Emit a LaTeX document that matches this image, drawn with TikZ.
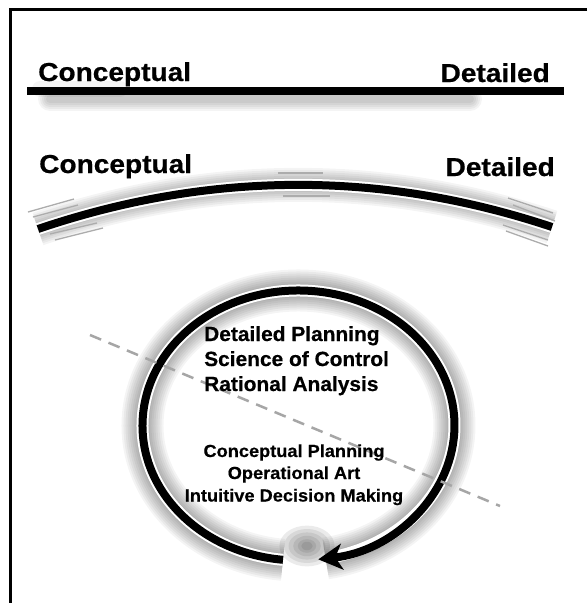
\documentclass[tikz,border=0pt]{standalone}
\usepackage{fontspec}
\setmainfont[BoldFeatures={FakeBold=0.5}]{Liberation Sans}
\usetikzlibrary{arrows.meta}
\tikzset{
  lbl/.style={inner sep=0pt, font=\bfseries},
  frameline/.style={line width=3pt, black},
  bar/.style={line width=8pt, black},
  rim/.style={line width=12pt, white},
  glow/.style={line width=#1, black, opacity=0.045},
  ghost/.style={draw=gray!65, line width=1.3pt},
  cutline/.style={draw=gray!70, line width=2.5pt, dash pattern=on 12pt off 8pt},
  blob/.style={fill=black, opacity=0.08},
}
\newcommand{\bigtxt}[1]{\fontsize{26}{30}\selectfont\scalebox{1.08}[1]{#1}}
\newcommand{\midtxt}[1]{\fontsize{20.5}{24}\selectfont\scalebox{1.02}[1]{#1}}
\newcommand{\smalltxt}[1]{\fontsize{17.5}{21}\selectfont\scalebox{1.04}[1]{#1}}
\begin{document}
\begin{tikzpicture}[x=1pt,y=-1pt]
\useasboundingbox (0,0) rectangle (587,603);
\fill[white] (0,0) rectangle (587,603);
% frame
\draw[frameline] (587,9.5) -- (10.5,9.5) -- (10.5,603);

% ---------- straight line ----------
\coordinate (l1) at (27,91);
\coordinate (l2) at (564,91);
\coordinate (s1) at (50,99);
\coordinate (s2) at (470,99);
\foreach \w in {8,12,16,20,24} {
  \draw[glow=\w pt, line cap=round] (s1) -- (s2);
}
\draw[glow=16pt, line cap=round] (40,89) -- (120,89);
\draw[bar] (l1) -- (l2);
\node[lbl, anchor=base west] (c1) at (38,81) {\bigtxt{Conceptual}};
\node[lbl, anchor=base east] (d1) at (550,82) {\bigtxt{Detailed}};

% ---------- curved line ----------
\coordinate (a1) at (38,229);
\coordinate (a2) at (552,227);
\foreach \w in {14,18,22,26,30,34} {
  \draw[glow=\w pt] (a1) .. controls (209,171) and (381,170) .. (a2);
}
\draw[rim] (a1) .. controls (209,171) and (381,170) .. (a2);
\draw[bar] (a1) .. controls (209,171) and (381,170) .. (a2);
% ghost strokes
\draw[ghost] (28,212) -- (74,199);
\draw[ghost] (33,217) -- (78,205);
\draw[ghost] (50,234) -- (97,223);
\draw[ghost] (55,240) -- (103,228);
\draw[ghost] (278,173) -- (323,173);
\draw[ghost] (283,196) -- (330,196);
\draw[ghost] (508,198) -- (553,213);
\draw[ghost] (513,205) -- (555,221);
\draw[ghost] (503,225) -- (548,240);
\draw[ghost] (506,231) -- (548,246);
\node[lbl, anchor=base west] (c2) at (39,173) {\bigtxt{Conceptual}};
\node[lbl, anchor=base east] (d2) at (555,176) {\bigtxt{Detailed}};

% ---------- ring ----------
\coordinate (rs) at (283,559.8);
\foreach \w in {14,18,22,26,30,34,38,42} {
  \draw[glow=\w pt] (rs) arc[start angle=95.7, end angle=440, x radius=156, y radius=135];
}
\foreach \r in {24,20,16,12,8,5} {
  \fill[blob] (307,546) ellipse[x radius=\r*1.15, y radius=\r*0.85];
}
\draw[rim] (rs) arc[start angle=95.7, end angle=438, x radius=156, y radius=135];
\draw[bar, -{Stealth[length=24pt, width=26pt, inset=7pt]}] (rs) arc[start angle=95.7, end angle=442.7, x radius=156, y radius=135];

% dashed cut
\coordinate (k1) at (90,335);
\coordinate (k2) at (500,506);
\draw[cutline] (k1) -- (k2);

% texts in ring
\node[lbl, anchor=base west] (t1) at (204,341) {\midtxt{Detailed Planning}};
\node[lbl, anchor=base west] (t2) at (204,366) {\midtxt{Science of Control}};
\node[lbl, anchor=base west] (t3) at (204,391) {\midtxt{Rational Analysis}};
\node[lbl, anchor=base] (b1) at (294,457) {\smalltxt{Conceptual Planning}};
\node[lbl, anchor=base] (b2) at (294,479) {\smalltxt{Operational Art}};
\node[lbl, anchor=base] (b3) at (294,501.5) {\smalltxt{Intuitive Decision Making}};
\end{tikzpicture}
\end{document}
